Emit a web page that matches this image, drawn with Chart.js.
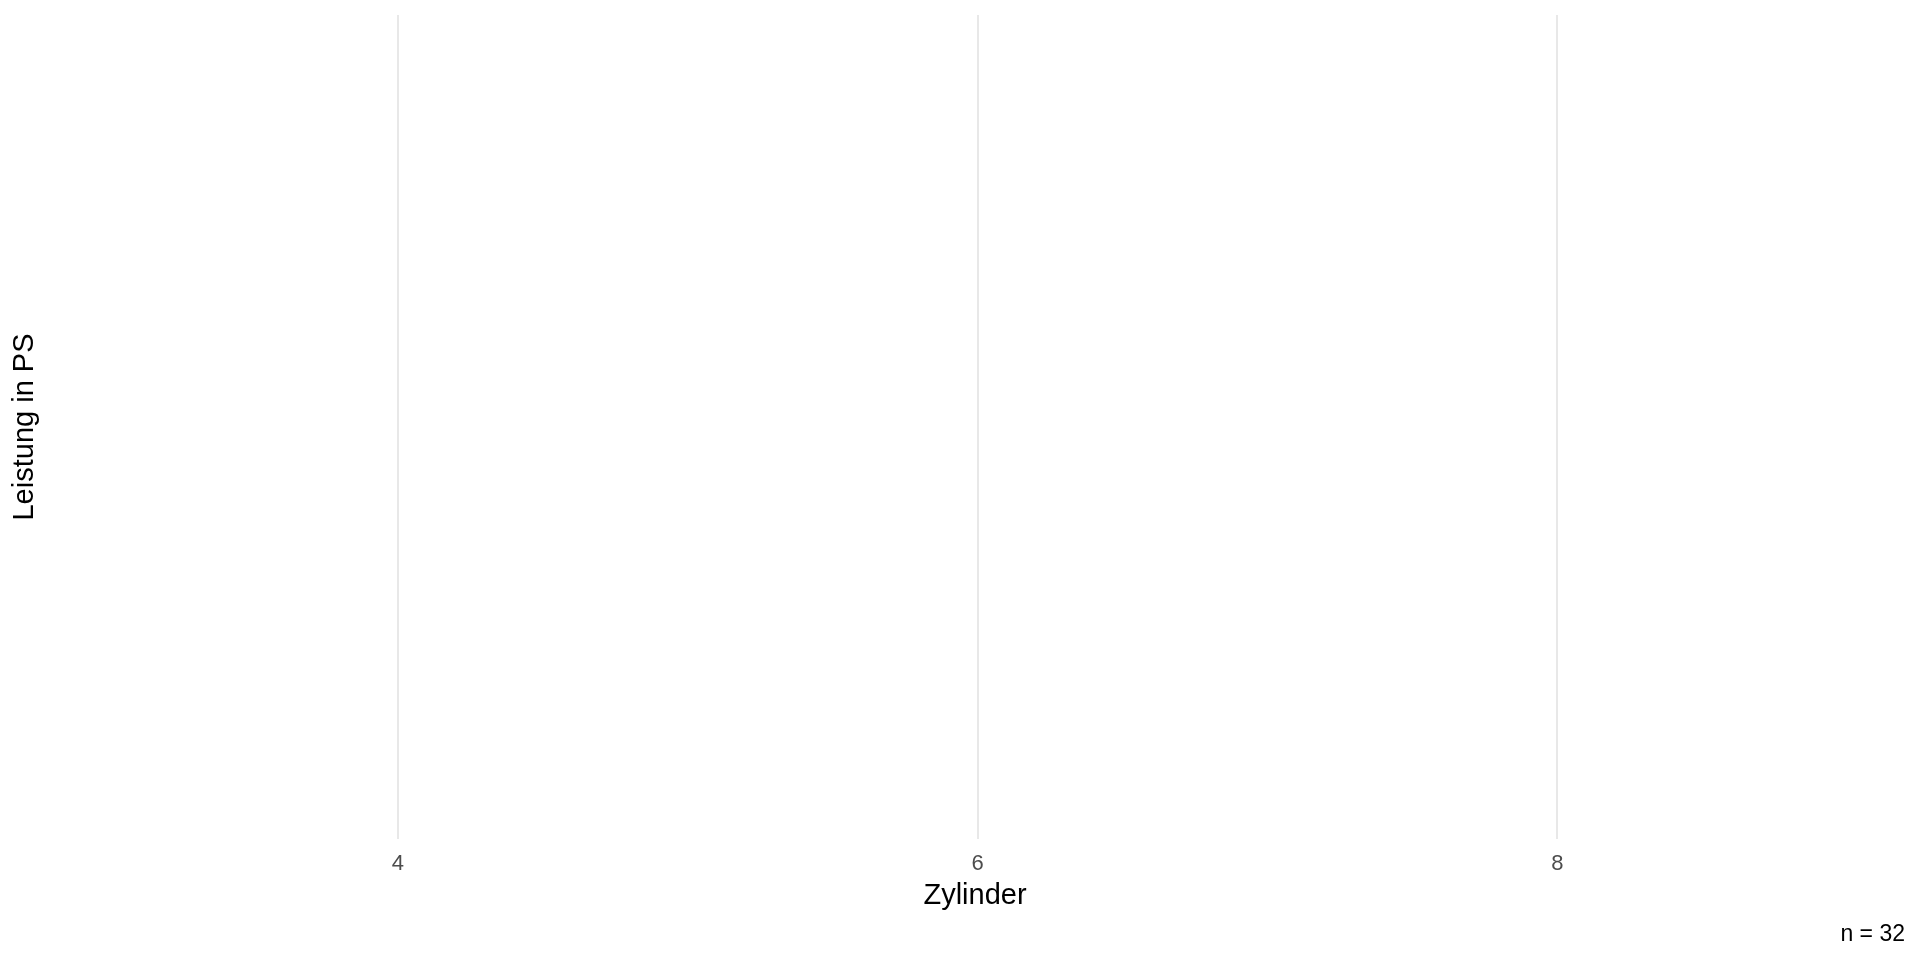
<!DOCTYPE html>
<html>
<head>
<meta charset="utf-8">
<script src="https://cdn.jsdelivr.net/npm/chart.js@4/dist/chart.umd.min.js"></script>
<style>
  html, body { margin: 0; padding: 0; background: #ffffff; }
  #wrap { width: 1920px; height: 960px; position: relative; }
</style>
</head>
<body>
<div id="wrap"><canvas id="c"></canvas></div>
<script>
// Data (the reference panel shows no marks)
const zylinder = [];
const leistung = [];
const xTickValues = [4, 6, 8];
const xTitle = 'Zylinder';
const yTitle = 'Leistung in PS';
const caption = 'n = 32';

const FONT = "'Liberation Sans', Arial, Helvetica, sans-serif";

const points = zylinder.map((z, i) => ({ x: z, y: leistung[i] }));

new Chart(document.getElementById('c'), {
  type: 'scatter',
  data: {
    datasets: [{
      label: yTitle,
      data: points,
      backgroundColor: '#000000',
      pointRadius: 3
    }]
  },
  options: {
    responsive: true,
    maintainAspectRatio: false,
    animation: false,
    layout: { padding: { top: 15, right: 15, bottom: 0, left: 0 } },
    plugins: {
      legend: { display: false },
      tooltip: { enabled: false },
      subtitle: {
        display: true,
        text: caption,
        position: 'bottom',
        align: 'end',
        color: '#000000',
        font: { family: FONT, size: 23, weight: 'normal' },
        padding: { top: 0, bottom: 12 }
      }
    },
    scales: {
      x: {
        type: 'linear',
        min: 2.783,
        max: 9.199,
        afterBuildTicks: (scale) => { scale.ticks = xTickValues.map(v => ({ value: v })); },
        afterFit: (scale) => { scale.height = 81.4; },
        grid: { display: true, color: '#E8E8E8', lineWidth: 2, drawTicks: false, tickLength: 0 },
        border: { display: false },
        ticks: {
          color: '#4D4D4D',
          font: { family: FONT, size: 22 },
          padding: 12,
          maxRotation: 0
        },
        title: {
          display: true,
          text: xTitle,
          color: '#000000',
          font: { family: FONT, size: 29 },
          padding: { top: 0, bottom: 7.5 }
        }
      },
      y: {
        type: 'linear',
        min: 0,
        max: 1,
        afterFit: (scale) => { scale.width = 45; },
        grid: { display: false, drawTicks: false },
        border: { display: false },
        ticks: { display: false },
        title: {
          display: true,
          text: yTitle,
          color: '#000000',
          font: { family: FONT, size: 29 },
          padding: { top: 8, bottom: 0 }
        }
      }
    }
  }
});
</script>
</body>
</html>
